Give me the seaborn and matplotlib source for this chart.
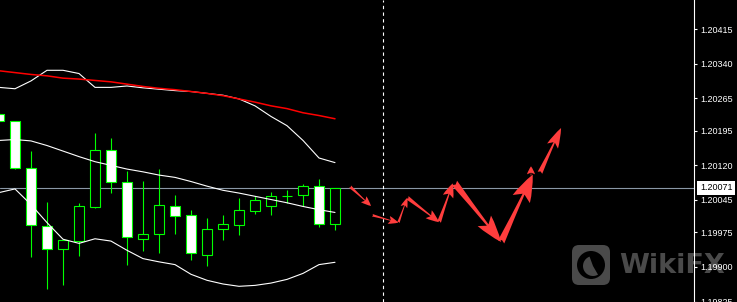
import matplotlib
matplotlib.use("Agg")
import matplotlib.pyplot as plt
from matplotlib.patches import FancyBboxPatch, Circle, Wedge
import pandas as pd
import seaborn as sns

# ---------------- data ----------------
bar_index = list(range(-1, 21))
opens  = [1.20231, 1.20216, 1.20115, 1.19989, 1.19938, 1.19956, 1.20030, 1.20154, 1.20085, 1.19961, 1.19971,
          1.20033, 1.20013, 1.19926, 1.19983, 1.19990, 1.20022, 1.20031, 1.20054, 1.20056, 1.20076, 1.19992]
highs  = [1.20236, 1.20217, 1.20152, 1.20040, 1.19960, 1.20038, 1.20191, 1.20180, 1.20107, 1.20087, 1.20113,
          1.20055, 1.20023, 1.20005, 1.20013, 1.20050, 1.20054, 1.20063, 1.20067, 1.20080, 1.20091, 1.20072]
lows   = [1.20215, 1.20113, 1.19922, 1.19853, 1.19861, 1.19924, 1.20027, 1.20060, 1.19904, 1.19935, 1.19930,
          1.19971, 1.19915, 1.19902, 1.19958, 1.19969, 1.20015, 1.20013, 1.20039, 1.20032, 1.19987, 1.19981]
closes = [1.20217, 1.20115, 1.19990, 1.19938, 1.19959, 1.20031, 1.20154, 1.20085, 1.19964, 1.19972, 1.20035,
          1.20011, 1.19931, 1.19983, 1.19992, 1.20024, 1.20044, 1.20054, 1.20054, 1.20076, 1.19994, 1.20071]

bb_upper  = [1.20289, 1.20286, 1.20303, 1.20326, 1.20326, 1.20319, 1.20289, 1.20289, 1.20292, 1.20288, 1.20285,
             1.20282, 1.20280, 1.20276, 1.20272, 1.20264, 1.20249, 1.20226, 1.20206, 1.20174, 1.20136, 1.20126]
bb_middle = [1.20174, 1.20176, 1.20173, 1.20163, 1.20151, 1.20139, 1.20128, 1.20120, 1.20112, 1.20106, 1.20099,
             1.20094, 1.20085, 1.20075, 1.20066, 1.20060, 1.20053, 1.20046, 1.20039, 1.20031, 1.20024, 1.20018]
bb_lower  = [1.20061, 1.20069, 1.20035, 1.19996, 1.19960, 1.19951, 1.19961, 1.19956, 1.19936, 1.19918, 1.19911,
             1.19905, 1.19884, 1.19871, 1.19863, 1.19858, 1.19860, 1.19865, 1.19873, 1.19886, 1.19905, 1.19910]
ma_red    = [1.20325, 1.20321, 1.20317, 1.20314, 1.20309, 1.20307, 1.20304, 1.20301, 1.20296, 1.20291, 1.20287,
             1.20284, 1.20280, 1.20276, 1.20271, 1.20264, 1.20257, 1.20249, 1.20243, 1.20234, 1.20228, 1.20221]

current_price = 1.20071
divider_index = 23

# forecast arrows (bar position, price) start -> end
arrow_x0 = [20.94, 22.33, 23.96, 24.52, 26.50, 27.46, 30.38, 32.25, 32.81]
arrow_p0 = [1.20074, 1.20012, 1.19996, 1.20050, 1.19997, 1.20082, 1.19954, 1.20098, 1.20104]
arrow_x1 = [22.25, 23.96, 24.52, 26.50, 27.36, 30.38, 32.36, 32.25, 34.13]
arrow_p1 = [1.20032, 1.19996, 1.20050, 1.19997, 1.20081, 1.19954, 1.20100, 1.20118, 1.20201]

price_ticks = [1.20415, 1.20340, 1.20265, 1.20195, 1.20120, 1.20045, 1.19975, 1.19900, 1.19825]
price_tick_labels = ["1.20415", "1.20340", "1.20265", "1.20195", "1.20120",
                     "1.20045", "1.19975", "1.19900", "1.19825"]

# ---------------- style ----------------
ARROW_HEAD_LEN = [10, 10, 10, 13, 14, 27, 27, 8, 20]   # px
ARROW_HEAD_W   = [8, 8, 7, 10, 11, 17, 19, 8, 12]      # px
ARROW_TAIL_W   = [3, 2.5, 2.5, 4, 4, 7, 7, 1, 5]       # px
GREEN = "#00ff00"
ARROW_RED = "#ff3d3d"

sns.set_style("dark", {"axes.facecolor": "black", "figure.facecolor": "black"})
plt.rcParams["font.family"] = ["Liberation Sans", "DejaVu Sans"]

fig = plt.figure(figsize=(7.37, 3.02), dpi=100, facecolor="black")
ax = fig.add_axes([0, 0, 694 / 737, 1])
ax.set_zorder(5)
ax.patch.set_visible(False)

df = pd.DataFrame({"bar": bar_index, "open": opens, "high": highs, "low": lows, "close": closes,
                   "upper": bb_upper, "middle": bb_middle, "lower": bb_lower, "ma": ma_red})

# current price line (behind candles)
ax.axhline(current_price, color="#8a97a6", lw=0.8, zorder=1)

# candles
bear = df["close"] < df["open"]
body_bottom = df[["open", "close"]].min(axis=1)
body_height = (df["close"] - df["open"]).abs()
ax.vlines(df["bar"], df["low"], df["high"], color=GREEN, lw=0.8, zorder=2)
ax.bar(df["bar"], body_height, bottom=body_bottom, width=0.58,
       color=["white" if b else "black" for b in bear], edgecolor=GREEN, linewidth=0.8, zorder=3)

# indicators
sns.lineplot(data=df, x="bar", y="upper", color="white", lw=0.8, ax=ax, zorder=4)
sns.lineplot(data=df, x="bar", y="middle", color="white", lw=0.8, ax=ax, zorder=4)
sns.lineplot(data=df, x="bar", y="lower", color="white", lw=0.8, ax=ax, zorder=4)
sns.lineplot(data=df, x="bar", y="ma", color="#ff0000", lw=1.1, ax=ax, zorder=4)

# divider
ax.axvline(divider_index, color="white", lw=0.8, ls=(0, (3, 3)), zorder=2)

# arrows
ms = 10.0
px_per_unit = ms * 100 / 72.0
for i in range(len(arrow_x0)):
    style = "fancy,head_length={:.3f},head_width={:.3f},tail_width={:.3f}".format(
        ARROW_HEAD_LEN[i] / px_per_unit, ARROW_HEAD_W[i] / px_per_unit, ARROW_TAIL_W[i] / px_per_unit)
    ax.annotate("", xy=(arrow_x1[i], arrow_p1[i]), xytext=(arrow_x0[i], arrow_p0[i]),
                arrowprops=dict(arrowstyle=style, fc=ARROW_RED, ec="none", lw=0,
                                shrinkA=0, shrinkB=0, mutation_scale=ms), zorder=6)

ax.set_xlim(-0.9375, 42.4375)
ax.set_ylim(1.19824, 1.204783)
ax.set_xlabel("")
ax.set_ylabel("")
ax.set_xticks([])
ax.yaxis.tick_right()
ax.set_yticks(price_ticks)
ax.set_yticklabels(price_tick_labels)
ax.tick_params(axis="y", colors="white", labelcolor="white", length=2.5, width=0.8,
               pad=2.2, labelsize=6.5, direction="out", right=True, left=False)
ax.grid(False)
for s in ["top", "left", "bottom"]:
    ax.spines[s].set_visible(False)
ax.spines["right"].set_visible(True)
ax.spines["right"].set_color("white")
ax.spines["right"].set_linewidth(0.8)

# current price label
ax.annotate("{:.5f}".format(current_price), xy=(1, current_price), xycoords=("axes fraction", "data"),
            xytext=(4.4, 0), textcoords="offset points", ha="left", va="center",
            fontsize=6.5, color="black", annotation_clip=False,
            bbox=dict(boxstyle="square,pad=0.3", fc="white", ec="none"))

# watermark (under the axes)
t = fig.dpi_scale_trans
fig.patches.append(FancyBboxPatch((5.72, 0.17), 0.38, 0.40, boxstyle="round,pad=0,rounding_size=0.07",
                                  transform=t, fc="#4a4a4a", ec="none", zorder=1))
fig.patches.append(Circle((5.91, 0.37), 0.14, transform=t, fc="black", ec="none", zorder=1.1))
fig.patches.append(Wedge((5.93, 0.36), 0.10, 110, 300, transform=t, fc="#4a4a4a", ec="none", zorder=1.2))
fig.text(6.19, 0.29, "WikiFX", transform=t, fontsize=19.5, fontweight="bold", color="#4a4a4a",
         va="baseline", ha="left", family="DejaVu Sans", zorder=1)

fig.savefig("out.png", dpi=100, facecolor="black")
